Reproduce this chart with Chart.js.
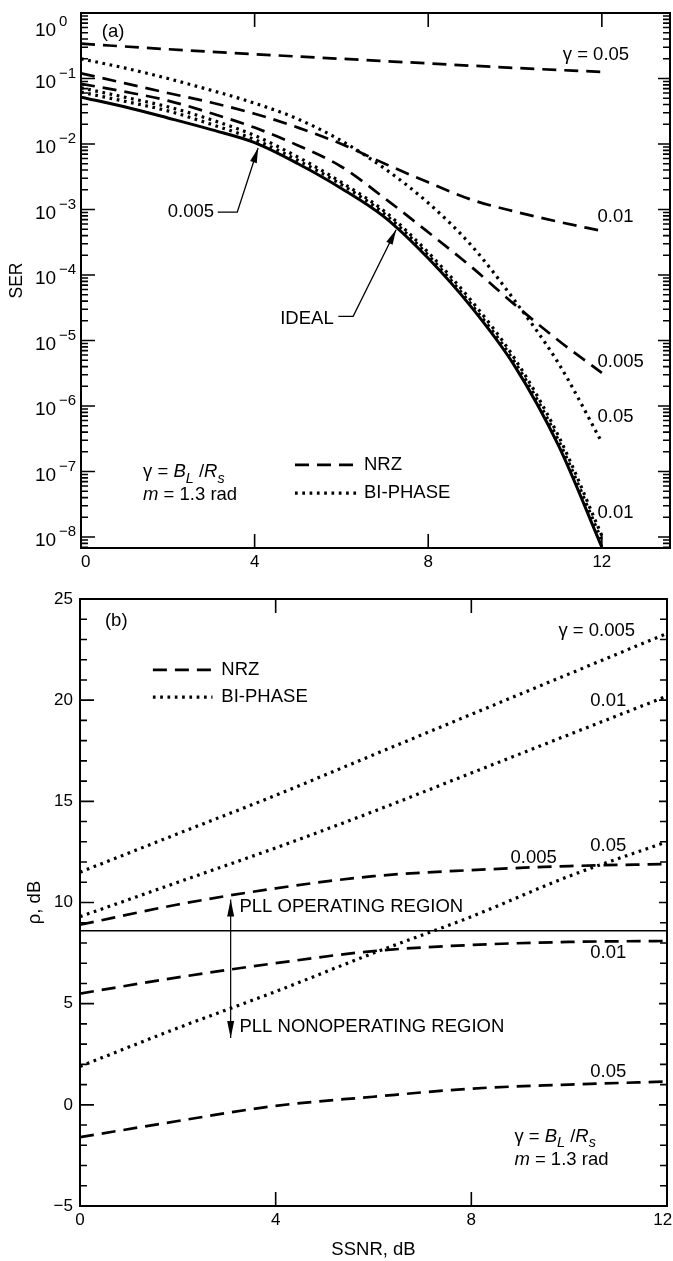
<!DOCTYPE html>
<html>
<head>
<meta charset="utf-8">
<script src="https://cdn.jsdelivr.net/npm/chart.js@4.4.1/dist/chart.umd.min.js"></script>
<style>
  body { margin: 0; background: #fff; }
  canvas { display: block; }
</style>
</head>
<body>
<canvas id="ser" width="673" height="585"></canvas>
<canvas id="rho" width="673" height="676"></canvas>
<script>
// ---- (a) SER vs SSNR ----
const ssnr = [0, 1, 2, 3, 4, 5, 6, 7, 8, 9, 10, 11, 12];
const ssnrEven = [0, 2, 4, 6, 8, 10, 12];
const serIdeal = [5.2e-2, 3.7e-2, 2.5e-2, 1.66e-2, 1.05e-2, 5.0e-3, 2.1e-3, 7.6e-4, 1.8e-4, 3.2e-5, 4.0e-6, 2.5e-7, 7.0e-9];
const serBiphase0005 = [6.2e-2, 4.5e-2, 3.2e-2, 2.0e-2, 1.17e-2, 5.6e-3, 2.4e-3, 8.5e-4, 2.0e-4, 3.5e-5, 4.6e-6, 3.0e-7, 8.9e-9];
const serBiphase001 = [7.2e-2, 5.2e-2, 3.7e-2, 2.35e-2, 1.35e-2, 6.3e-3, 2.6e-3, 9.3e-4, 2.2e-4, 4.0e-5, 5.2e-6, 3.5e-7, 1.05e-8];
const serBiphase005 = [0.2, 0.145, 0.1, 6.6e-2, 4.2e-2, 2.4e-2, 1.12e-2, 4.2e-3, 1.26e-3, 2.8e-4, 4.0e-5, 4.5e-6, 2.8e-7];
const serNrz005 = [0.34, 0.28, 0.235, 0.2, 0.17, 0.145, 0.126]; // at ssnrEven
const serNrz001 = [0.12, 8.5e-2, 6.0e-2, 4.3e-2, 2.9e-2, 1.78e-2, 1.0e-2, 5.0e-3, 2.6e-3, 1.41e-3, 9.3e-4, 6.5e-4, 4.7e-4];
const serNrz0005 = [8.3e-2, 6.3e-2, 4.6e-2, 2.95e-2, 1.78e-2, 9.5e-3, 4.5e-3, 1.48e-3, 4.5e-4, 1.32e-4, 3.5e-5, 1.0e-5, 3.2e-6];
const serDecades = [0, -1, -2, -3, -4, -5, -6, -7, -8];
const serMinor = [2, 3, 4, 5, 6, 7, 8, 9];

// ---- (b) rho vs SSNR ----
const rhoBiphase0005 = [11.5, 13.4, 15.3, 17.3, 19.3, 21.3, 23.3];
const rhoBiphase001 = [9.3, 11.0, 12.7, 14.5, 16.4, 18.3, 20.2];
const rhoBiphase005 = [1.9, 3.8, 5.6, 7.5, 9.3, 11.3, 13.0];
const rhoNrz0005 = [8.9, 9.9, 10.7, 11.3, 11.6, 11.8, 11.9];
const rhoNrz001 = [5.5, 6.3, 7.0, 7.6, 7.9, 8.05, 8.1];
const rhoNrz005 = [-1.6, -0.8, -0.05, 0.4, 0.8, 1.0, 1.15];
const pllThreshold = 8.6;
const rhoMajor = [-5, 0, 5, 10, 15, 20, 25];
const xTicks = [0, 4, 8, 12];

const FONT = '"Liberation Sans", Arial, sans-serif';
Chart.defaults.font.family = FONT;
Chart.defaults.color = '#000';

const pts = (xs, ys) => ys.map((v, i) => ({ x: xs[i], y: v }));
const NRZ_DASH = [14, 8];
const BI_DASH = [2.7, 4.6];

function line(data, kind) {
  const ds = { data, borderColor: '#000', pointRadius: 0, fill: false, cubicInterpolationMode: 'monotone', borderCapStyle: 'butt' };
  if (kind === 'nrz') { ds.borderDash = NRZ_DASH; ds.borderWidth = 2.7; }
  else if (kind === 'bi') { ds.borderDash = BI_DASH; ds.borderWidth = 3.2; }
  else if (kind === 'thin') { ds.borderWidth = 1.5; }
  else { ds.borderWidth = 3; }
  return ds;
}

function fixBox(w, h) {
  return s => {
    if (w != null) s.width = w;
    if (h != null) s.height = h;
    s.paddingLeft = 0; s.paddingRight = 0; s.paddingTop = 0; s.paddingBottom = 0;
  };
}

// inside ticks + frame
function tickFrame(cfg) {
  return {
    id: 'tickFrame',
    afterDatasetsDraw(chart) {
      const { ctx, chartArea: a, scales: { x, y } } = chart;
      ctx.save();
      ctx.strokeStyle = '#000';
      ctx.setLineDash([]);
      ctx.lineWidth = 2;
      ctx.strokeRect(a.left, a.top, a.right - a.left, a.bottom - a.top);
      ctx.lineWidth = 1.6;
      ctx.beginPath();
      cfg.xMajor.forEach(v => {
        const px = x.getPixelForValue(v);
        ctx.moveTo(px, a.bottom); ctx.lineTo(px, a.bottom - cfg.xLen);
        ctx.moveTo(px, a.top); ctx.lineTo(px, a.top + cfg.xLen);
      });
      cfg.yMajor.forEach(v => {
        const py = y.getPixelForValue(v);
        ctx.moveTo(a.left, py); ctx.lineTo(a.left + cfg.majL, py);
        ctx.moveTo(a.right, py); ctx.lineTo(a.right - cfg.majR, py);
      });
      cfg.yMinor.forEach(v => {
        const py = y.getPixelForValue(v);
        if (py < a.top || py > a.bottom) return;
        ctx.moveTo(a.left, py); ctx.lineTo(a.left + cfg.minL, py);
        ctx.moveTo(a.right, py); ctx.lineTo(a.right - cfg.minR, py);
      });
      ctx.stroke();
      ctx.restore();
    }
  };
}

function rich(ctx, parts, x, y, size) {
  let cx = x;
  parts.forEach(p => {
    const sz = p.sub ? size * 0.78 : size;
    ctx.font = (p.it ? 'italic ' : '') + sz + 'px ' + FONT;
    ctx.fillText(p.t, cx, y + (p.sub ? size * 0.35 : 0));
    cx += ctx.measureText(p.t).width;
  });
}
const gammaParts = [{ t: '\u03b3 = ' }, { t: 'B', it: true }, { t: 'L', it: true, sub: true }, { t: ' /' }, { t: 'R', it: true }, { t: 's', it: true, sub: true }];
const mParts = [{ t: 'm', it: true }, { t: ' = 1.3 rad' }];

function arrowHead(ctx, x0, y0, x1, y1, len, half) {
  const ang = Math.atan2(y1 - y0, x1 - x0);
  ctx.beginPath();
  ctx.moveTo(x1, y1);
  ctx.lineTo(x1 - len * Math.cos(ang) + half * Math.sin(ang), y1 - len * Math.sin(ang) - half * Math.cos(ang));
  ctx.lineTo(x1 - len * Math.cos(ang) - half * Math.sin(ang), y1 - len * Math.sin(ang) + half * Math.cos(ang));
  ctx.closePath();
  ctx.fill();
}

function legendLines(ctx, x0, x1, yN, yB) {
  ctx.save();
  ctx.lineCap = 'butt';
  ctx.lineWidth = 2.7; ctx.setLineDash(NRZ_DASH);
  ctx.beginPath(); ctx.moveTo(x0, yN); ctx.lineTo(x1, yN); ctx.stroke();
  ctx.lineWidth = 3.2; ctx.setLineDash(BI_DASH);
  ctx.beginPath(); ctx.moveTo(x0, yB); ctx.lineTo(x1 - 4, yB); ctx.stroke();
  ctx.restore();
}

const LBL = 18.5;

const annotA = {
  id: 'annotA',
  afterDraw(chart) {
    const { ctx, scales: { x, y } } = chart;
    const X = v => x.getPixelForValue(v);
    const Y = e => y.getPixelForValue(Math.pow(10, e));
    ctx.save();
    ctx.fillStyle = '#000'; ctx.strokeStyle = '#000';
    ctx.textBaseline = 'middle'; ctx.textAlign = 'left';
    // decade labels with exponent
    serDecades.forEach(e => {
      let py = Y(e);
      if (e === 0) py += 14;
      ctx.font = '19px ' + FONT;
      ctx.fillText('10', 35, py + 4);
      ctx.font = '15px ' + FONT;
      ctx.fillText(e === 0 ? '0' : '\u2212' + (-e), 59, py - 5);
    });
    ctx.font = LBL + 'px ' + FONT;
    const txt = [['(a)', 0.48, -0.29], ['\u03b3 = 0.05', 11.1, -0.64], ['0.01', 11.9, -3.11], ['0.005', 11.9, -5.33],
                 ['0.05', 11.9, -6.17], ['0.01', 11.9, -7.63], ['0.005', 2.0, -3.04], ['IDEAL', 4.59, -4.67],
                 ['NRZ', 6.52, -6.9], ['BI-PHASE', 6.52, -7.33]];
    txt.forEach(([s, vx, ve]) => ctx.fillText(s, X(vx), Y(ve)));
    rich(ctx, gammaParts, X(1.43), Y(-7.01), LBL);
    rich(ctx, mParts, X(1.43), Y(-7.36), LBL);
    legendLines(ctx, X(4.93), X(6.45), Y(-6.9), Y(-7.33));
    // arrows
    ctx.lineWidth = 1.3; ctx.setLineDash([]);
    ctx.beginPath();
    ctx.moveTo(X(3.15), Y(-3.04)); ctx.lineTo(X(3.6), Y(-3.04)); ctx.lineTo(X(4.08), Y(-2.06));
    ctx.moveTo(X(5.93), Y(-4.63)); ctx.lineTo(X(6.27), Y(-4.63)); ctx.lineTo(X(7.26), Y(-3.31));
    ctx.stroke();
    arrowHead(ctx, X(3.6), Y(-3.04), X(4.08), Y(-2.06), 15, 3.5);
    arrowHead(ctx, X(6.27), Y(-4.63), X(7.26), Y(-3.31), 15, 3.5);
    ctx.restore();
  }
};

const annotB = {
  id: 'annotB',
  afterDraw(chart) {
    const { ctx, scales: { x, y } } = chart;
    const X = v => x.getPixelForValue(v);
    const Y = v => y.getPixelForValue(v);
    ctx.save();
    ctx.fillStyle = '#000'; ctx.strokeStyle = '#000';
    ctx.textBaseline = 'middle'; ctx.textAlign = 'left';
    ctx.font = LBL + 'px ' + FONT;
    const txt = [['(b)', 0.51, 23.9], ['NRZ', 2.89, 21.5], ['BI-PHASE', 2.89, 20.15], ['\u03b3 = 0.005', 9.78, 23.4],
                 ['0.01', 10.43, 19.95], ['0.005', 8.8, 12.2], ['0.05', 10.43, 12.8], ['PLL OPERATING REGION', 3.26, 9.8],
                 ['0.01', 10.43, 7.5], ['PLL NONOPERATING REGION', 3.26, 3.86], ['0.05', 10.43, 1.63]];
    txt.forEach(([s, vx, vy]) => ctx.fillText(s, X(vx), Y(vy)));
    rich(ctx, gammaParts, X(8.88), Y(-1.58), LBL);
    rich(ctx, mParts, X(8.88), Y(-2.72), LBL);
    legendLines(ctx, X(1.49), X(2.79), Y(21.5), Y(20.15));
    ctx.lineWidth = 1.2; ctx.setLineDash([]);
    ctx.beginPath();
    ctx.moveTo(X(3.08), Y(pllThreshold)); ctx.lineTo(X(3.08), Y(10.15));
    ctx.moveTo(X(3.08), Y(pllThreshold)); ctx.lineTo(X(3.08), Y(3.3));
    ctx.stroke();
    arrowHead(ctx, X(3.08), Y(pllThreshold), X(3.08), Y(10.15), 17, 3.5);
    arrowHead(ctx, X(3.08), Y(pllThreshold), X(3.08), Y(3.3), 17, 3.5);
    ctx.restore();
  }
};

const serMinorVals = [];
serDecades.concat([-9]).forEach(e => serMinor.forEach(m => serMinorVals.push(m * Math.pow(10, e))));

new Chart(document.getElementById('ser'), {
  type: 'line',
  data: {
    datasets: [
      line(pts(ssnr, serIdeal), 'solid'),
      line(pts(ssnr, serBiphase0005), 'bi'),
      line(pts(ssnr, serBiphase001), 'bi'),
      line(pts(ssnr, serBiphase005), 'bi'),
      line(pts(ssnrEven, serNrz005), 'nrz'),
      line(pts(ssnr, serNrz001), 'nrz'),
      line(pts(ssnr, serNrz0005), 'nrz')
    ]
  },
  options: {
    responsive: false,
    animation: false,
    layout: { padding: { top: 13, right: 3, left: 0, bottom: 0 } },
    plugins: { legend: { display: false }, tooltip: { enabled: false } },
    scales: {
      x: {
        type: 'linear', min: 0, max: 13.57,
        afterBuildTicks: s => { s.ticks = xTicks.map(v => ({ value: v })); },
        afterFit: fixBox(null, 37),
        grid: { display: false, drawTicks: false },
        border: { display: false },
        ticks: { padding: 4, font: { size: 17 }, maxRotation: 0, callback: v => (v === 0 ? '\u20070' : String(v)) }
      },
      y: {
        type: 'logarithmic', min: 6.8e-9, max: 1,
        afterFit: fixBox(81, null),
        grid: { display: false, drawTicks: false },
        border: { display: false },
        ticks: { display: false },
        title: { display: true, text: 'SER', font: { size: 17.5 }, padding: { top: 7, bottom: 0 } }
      }
    }
  },
  plugins: [tickFrame({ xMajor: [4, 8, 12], xLen: 14, yMajor: serDecades.map(e => Math.pow(10, e)), yMinor: serMinorVals, majL: 14, majR: 12, minL: 7, minR: 7 }), annotA]
});

const rhoMinor = [];
for (let v = -5; v <= 25; v++) if (v % 5 !== 0) rhoMinor.push(v);

new Chart(document.getElementById('rho'), {
  type: 'line',
  data: {
    datasets: [
      line(pts([0, 12], [pllThreshold, pllThreshold]), 'thin'),
      line(pts(ssnrEven, rhoBiphase0005), 'bi'),
      line(pts(ssnrEven, rhoBiphase001), 'bi'),
      line(pts(ssnrEven, rhoBiphase005), 'bi'),
      line(pts(ssnrEven, rhoNrz0005), 'nrz'),
      line(pts(ssnrEven, rhoNrz001), 'nrz'),
      line(pts(ssnrEven, rhoNrz005), 'nrz')
    ]
  },
  options: {
    responsive: false,
    animation: false,
    layout: { padding: { top: 14, right: 6, left: 0, bottom: 0 } },
    plugins: { legend: { display: false }, tooltip: { enabled: false } },
    scales: {
      x: {
        type: 'linear', min: 0, max: 12,
        afterBuildTicks: s => { s.ticks = xTicks.map(v => ({ value: v })); },
        afterFit: fixBox(null, 55),
        grid: { display: false, drawTicks: false },
        border: { display: false },
        ticks: { padding: 4, font: { size: 17 }, maxRotation: 0, callback: v => (v === 12 ? '12\u2002' : String(v)) },
        title: { display: true, text: 'SSNR, dB', font: { size: 18.5 }, padding: { top: 0, bottom: 0 } }
      },
      y: {
        type: 'linear', min: -5, max: 25,
        afterBuildTicks: s => { s.ticks = rhoMajor.map(v => ({ value: v })); },
        afterFit: fixBox(80, null),
        grid: { display: false, drawTicks: false },
        border: { display: false },
        ticks: { padding: 7, font: { size: 17 }, callback: v => String(v).replace('-', '\u2212') },
        title: { display: true, text: '\u03c1, dB', font: { size: 18.5 }, padding: { top: 24, bottom: 0 } }
      }
    }
  },
  plugins: [tickFrame({ xMajor: [4, 8], xLen: 14, yMajor: rhoMajor, yMinor: rhoMinor, majL: 14, majR: 8, minL: 7, minR: 7 }), annotB]
});
</script>
</body>
</html>
